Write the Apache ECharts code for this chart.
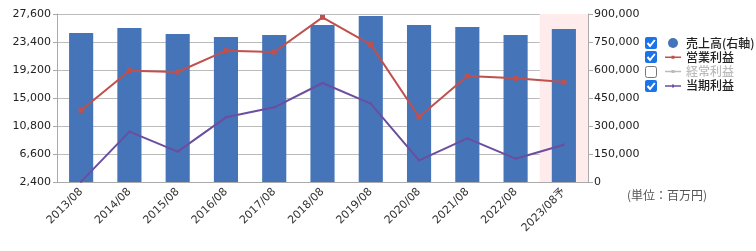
<!DOCTYPE html>
<html><head><meta charset="utf-8">
<script src="https://cdn.jsdelivr.net/npm/echarts@6/dist/echarts.min.js"></script>
<style>html,body{margin:0;padding:0;background:#fff}#c{width:756px;height:251px}</style>
</head><body><div id="c"></div>
<script>
const categories = ['2013/08','2014/08','2015/08','2016/08','2017/08','2018/08','2019/08','2020/08','2021/08','2022/08','2023/08予'];
const sales = [798000, 825000, 793000, 777000, 788000, 841000, 889000, 841000, 830000, 788000, 820000];
const operatingProfit = [13150, 19100, 18900, 22100, 21900, 27100, 23000, 12150, 18300, 17950, 17400];
const ordinaryProfit = [];
const netProfit = [2450, 9950, 6950, 12100, 13600, 17250, 14150, 5650, 8950, 5900, 8000];
const forecastBand = [null, null, null, null, null, null, null, null, null, null, 900000];
const leftTicks = {min: 2400, max: 27600, interval: 4200};
const rightTicks = {min: 0, max: 900000, interval: 150000};

const FONT = '"Noto Sans CJK JP", "Noto Sans", sans-serif';
const NUMFONT = '"DejaVu Sans", "Noto Sans CJK JP", sans-serif';
const fmt = v => String(v).replace(/\B(?=(\d{3})+(?!\d))/g, ',');
const chart = echarts.init(document.getElementById('c'), null, {renderer: 'canvas'});

function checkbox(x, y, checked) {
  if (checked) {
    return {type: 'group', left: x, top: y, children: [
      {type: 'rect', shape: {x: 0, y: 0, width: 12, height: 12, r: 2}, style: {fill: '#1a73e8'}},
      {type: 'polyline', shape: {points: [[2.5, 6], [5, 9], [9.8, 3]]}, style: {stroke: '#fff', lineWidth: 2, fill: null}}
    ]};
  }
  return {type: 'group', left: x, top: y, children: [
    {type: 'rect', shape: {x: 0.5, y: 0.5, width: 11, height: 11, r: 2}, style: {fill: '#fff', stroke: '#777', lineWidth: 1}}
  ]};
}
// legend line icon: 16x10 box, thin line with a small square marker
const corners = 'M0,0h0.01v0.01h-0.01Z M15.99,9.99h0.01v0.01h-0.01Z ';
const iconSq = 'path://' + corners + 'M0,4.25h16v1.5h-16Z M6.5,3.5h3v3h-3Z';
const iconSmall = 'path://' + corners + 'M0,4.25h16v1.5h-16Z M7,3.5h2v3h-2Z';

chart.setOption({
  animation: false,
  textStyle: {fontFamily: FONT},
  grid: {left: 57, right: 168, top: 14, bottom: 69},
  legend: {
    orient: 'vertical', left: 660, top: 32, itemGap: 2.3, itemWidth: 16, itemHeight: 10,
    selectedMode: true, inactiveColor: '#bbb',
    textStyle: {fontSize: 12, color: '#222', fontFamily: FONT, fontWeight: 500, lineHeight: 12},
    data: [
      {name: '売上高(右軸)', icon: 'circle'},
      {name: '営業利益', icon: iconSq},
      {name: '経常利益', icon: iconSq},
      {name: '当期利益', icon: iconSmall}
    ],
    selected: {'経常利益': false}
  },
  graphic: [
    checkbox(645, 37, true), checkbox(645, 51, true), checkbox(645, 66, false), checkbox(645, 80, true),
    {type: 'text', left: 627, top: 189, style: {text: '(単位：百万円)', fill: '#555', font: '12px ' + FONT}}
  ],
  xAxis: [{
    type: 'category', data: categories, boundaryGap: true,
    axisLine: {lineStyle: {color: '#aaa'}},
    axisTick: {inside: true, length: 7, lineStyle: {color: '#aaa'}},
    axisLabel: {rotate: 45, fontSize: 11, fontFamily: NUMFONT, color: '#333', margin: 8, interval: 0}
  }, {
    type: 'category', data: categories, show: false, boundaryGap: true
  }],
  yAxis: [{
    type: 'value', min: leftTicks.min, max: leftTicks.max, interval: leftTicks.interval,
    axisLine: {show: true, lineStyle: {color: '#aaa'}},
    axisTick: {show: true, length: 4, lineStyle: {color: '#aaa'}},
    splitLine: {lineStyle: {color: '#bbb'}},
    axisLabel: {fontSize: 11, fontFamily: NUMFONT, color: '#222', margin: 6, formatter: fmt}
  }, {
    type: 'value', min: rightTicks.min, max: rightTicks.max, interval: rightTicks.interval,
    axisLine: {show: true, lineStyle: {color: '#aaa'}},
    axisTick: {show: true, length: 5, lineStyle: {color: '#aaa'}},
    splitLine: {show: false},
    axisLabel: {fontSize: 11, fontFamily: NUMFONT, color: '#222', margin: 6, formatter: fmt}
  }],
  series: [
    {name: 'forecast', type: 'bar', xAxisIndex: 1, yAxisIndex: 1, data: forecastBand, barWidth: '100%',
     itemStyle: {color: '#fdeceb'}, silent: true, z: 0, legendHoverLink: false},
    {name: '売上高(右軸)', type: 'bar', yAxisIndex: 1, data: sales, barWidth: '50%',
     itemStyle: {color: '#4674b8'}, z: 2},
    {name: '営業利益', type: 'line', yAxisIndex: 0, data: operatingProfit,
     symbol: 'rect', symbolSize: 5, lineStyle: {color: '#c0504d', width: 2}, itemStyle: {color: '#c0504d'}, z: 4},
    {name: '経常利益', type: 'line', yAxisIndex: 0, data: ordinaryProfit,
     symbol: 'rect', symbolSize: 4, lineStyle: {color: '#999', width: 2}, itemStyle: {color: '#999'}, z: 3},
    {name: '当期利益', type: 'line', yAxisIndex: 0, data: netProfit,
     symbol: 'rect', symbolSize: 2, showSymbol: true, lineStyle: {color: '#6b4ea0', width: 2}, itemStyle: {color: '#6b4ea0'}, z: 3}
  ]
});
</script></body></html>
